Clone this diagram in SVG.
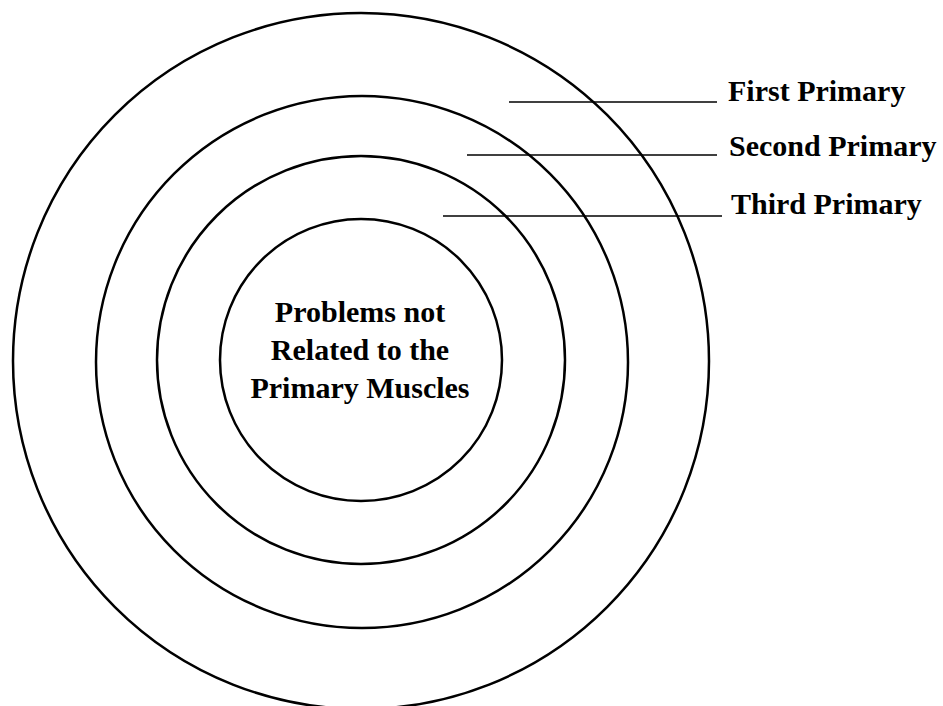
<svg xmlns="http://www.w3.org/2000/svg" width="943" height="706" viewBox="0 0 943 706">
<style>
.ring{fill:none;stroke:#000;stroke-width:2.5}
.lead{stroke:#000;stroke-width:1.5}
.lbl{font-family:"Liberation Serif","Times New Roman",serif;font-weight:bold;font-size:30px;fill:#000}
</style>
<rect width="943" height="706" fill="#fff"/>
<g id="ring-first"><circle class="ring" cx="361" cy="361" r="348"/></g>
<g id="ring-second"><circle class="ring" cx="362" cy="362" r="266"/></g>
<g id="ring-third"><circle class="ring" cx="361" cy="360" r="204"/></g>
<g id="core">
<circle class="ring" cx="361" cy="360" r="141"/>
<text class="lbl" text-anchor="middle" x="360" y="322">Problems not</text>
<text class="lbl" text-anchor="middle" x="360" y="360">Related to the</text>
<text class="lbl" text-anchor="middle" x="360" y="398">Primary Muscles</text>
</g>
<g id="connectors">
<line class="lead" x1="509" y1="102" x2="717" y2="102"/>
<line class="lead" x1="467" y1="155" x2="717" y2="155"/>
<line class="lead" x1="443" y1="216" x2="722" y2="216"/>
</g>
<g id="label-first"><text class="lbl" x="728" y="101">First Primary</text></g>
<g id="label-second"><text class="lbl" x="729" y="156">Second Primary</text></g>
<g id="label-third"><text class="lbl" x="731" y="214">Third Primary</text></g>
</svg>
